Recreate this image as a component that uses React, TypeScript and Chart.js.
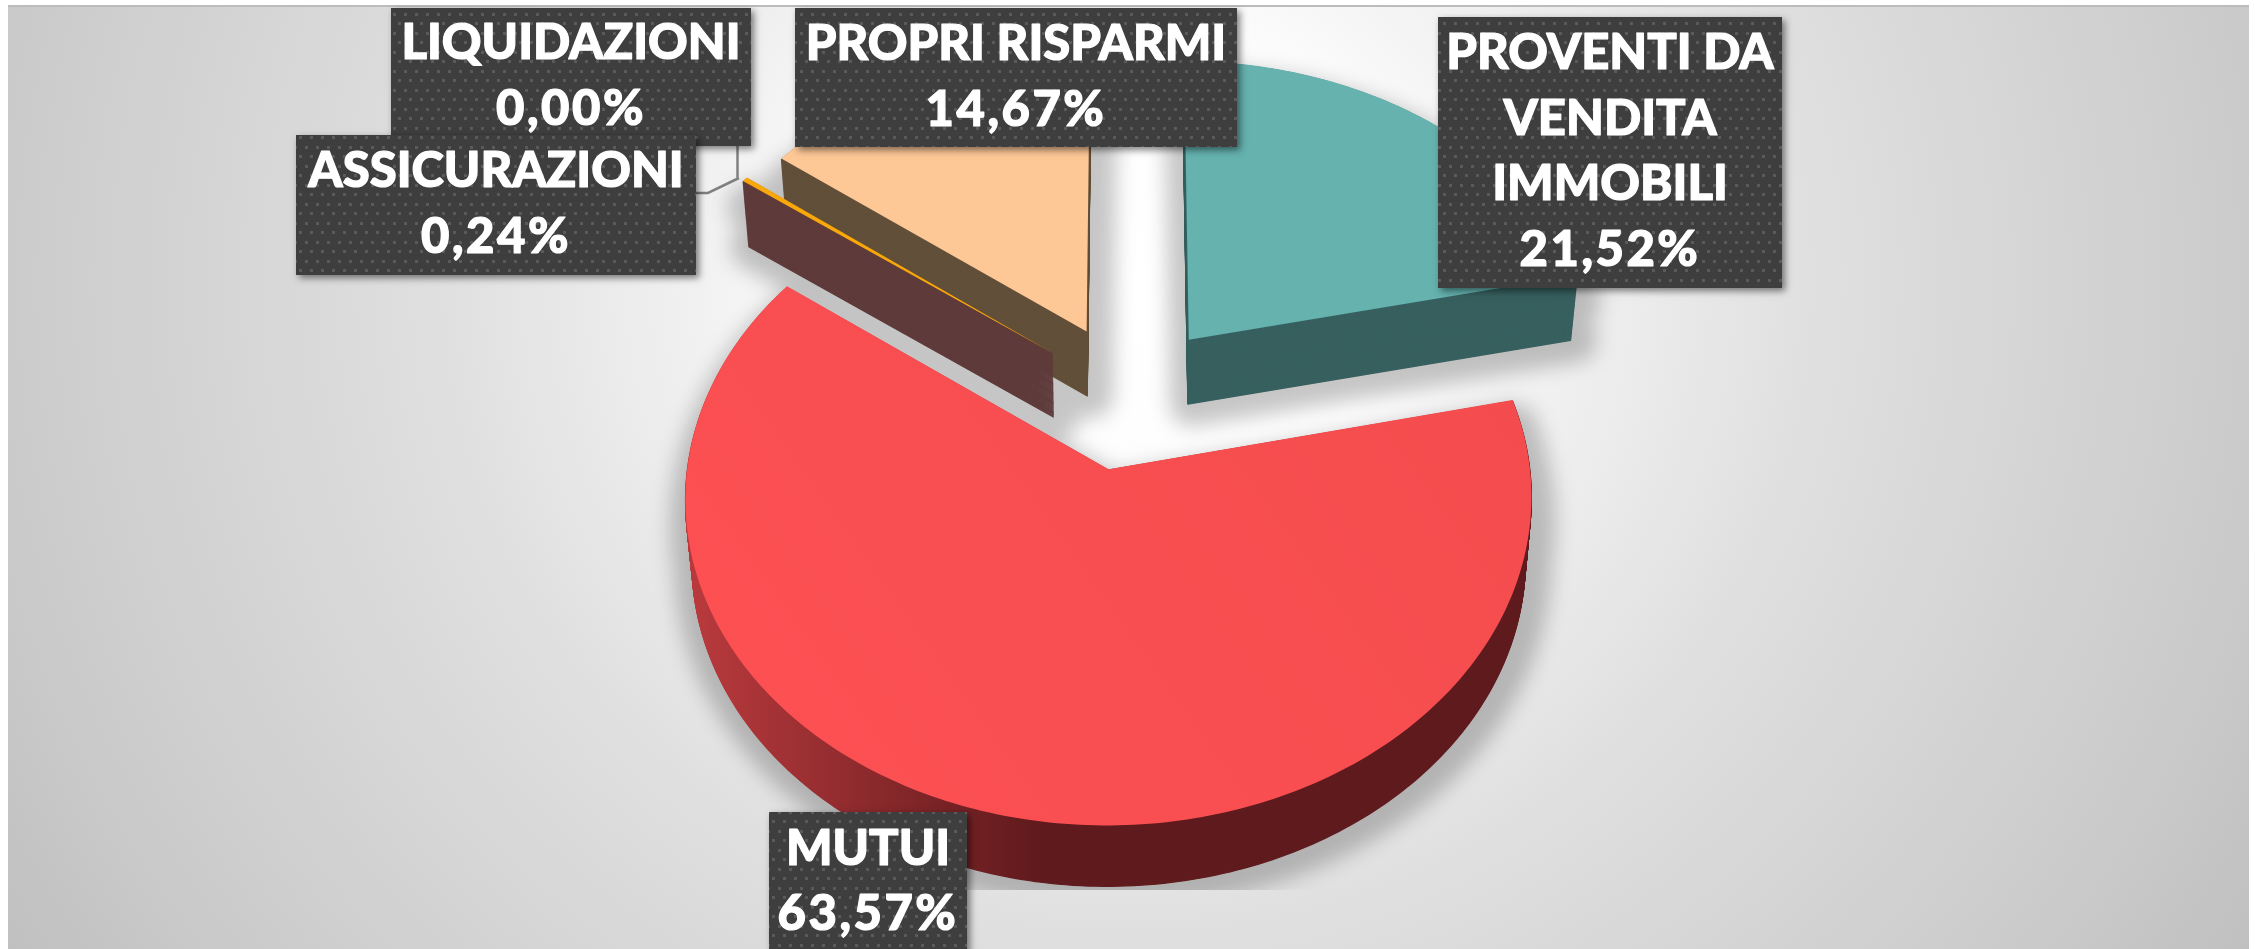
import React, { useEffect, useRef } from "react";
import { Chart, registerables } from "chart.js";

Chart.register(...registerables);

const categories = ["PROVENTI DA VENDITA IMMOBILI", "MUTUI", "ASSICURAZIONI", "LIQUIDAZIONI", "PROPRI RISPARMI"];
const values = [21.52, 63.57, 0.24, 0.0, 14.67];
const topColors = ["#65b2af", "#f64c4e", "#f9a80a", "#a5a5a5", "#fdc796"];
const wallColors = ["#37605f", "#5f1a1d", "#5f3b3b", "#555555", "#62503a"];
const paintOrder = [4, 3, 2, 0, 1];

const valueLabels = ["21,52%", "63,57%", "0,24%", "0,00%", "14,67%"];
const labelLines = [["PROVENTI DA", "VENDITA", "IMMOBILI"], ["MUTUI"], ["ASSICURAZIONI"], ["LIQUIDAZIONI"], ["PROPRI RISPARMI"]];
const labelBoxes = [
  { l: 1438, t: 17, r: 1782, b: 288, base: [69, 135, 200, 266] },
  { l: 769, t: 812, r: 967, b: 960, base: [865, 930] },
  { l: 296, t: 135, r: 696, b: 275, base: [187, 253] },
  { l: 391, t: 8, r: 751, b: 146, base: [59, 125] },
  { l: 795, t: 8, r: 1237, b: 147, base: [60, 126] },
];
const labelPaintOrder = [3, 2, 4, 0, 1];

// Perspective of the pie's plane
const explode = 0.235;
const view = { cx: 1129, cy: 396, fx: 413, fy: 312, persp: 0.0865 };

function project(X: number, Z: number, t: number) {
  const w = 1 - view.persp * Z;
  const x = view.cx + (view.fx * X) / w;
  const y = view.cy + (view.fy * Z) / w;
  const depth = 64 - 2.5 * Z;
  return { x: view.cx + (x - view.cx) * (1 - 0.015 * t), y: y + depth * t };
}

function projectedContext(real: any, arc: any, t: number, fill: any, edge: number) {
  const half = (arc.startAngle + arc.endAngle) / 2;
  const R = arc.outerRadius;
  const map = (px: number, py: number) => {
    const X = (px - arc.x) / R + explode * Math.cos(half);
    const Z = (py - arc.y) / R + explode * Math.sin(half);
    return project(X, Z, t);
  };
  return new Proxy(real, {
    get(target, key) {
      if (key === "arc") {
        return (x: number, y: number, r: number, a: number, b: number) => {
          const n = Math.max(2, Math.ceil(Math.abs(b - a) * 60));
          for (let i = 0; i <= n; i++) {
            const ang = a + ((b - a) * i) / n;
            const p = map(x + r * Math.cos(ang), y + r * Math.sin(ang));
            target.lineTo(p.x, p.y);
          }
        };
      }
      if (key === "lineTo" || key === "moveTo") {
        return (x: number, y: number) => {
          const p = map(x, y);
          target[key](p.x, p.y);
        };
      }
      if (key === "fill" && edge > 0) {
        return () => {
          target.fill();
          target.strokeStyle = target.fillStyle;
          target.lineWidth = edge;
          target.lineJoin = "round";
          target.stroke();
        };
      }
      const v = target[key];
      return typeof v === "function" ? v.bind(target) : v;
    },
    set(target, key, v) {
      target[key] = key === "fillStyle" && fill ? fill : v;
      return true;
    },
  });
}

function dotPattern(ctx: CanvasRenderingContext2D) {
  const c = document.createElement("canvas");
  c.width = 11;
  c.height = 19;
  const g = c.getContext("2d")!;
  g.fillStyle = "#3e3e3e";
  g.fillRect(0, 0, 11, 19);
  g.fillStyle = "#5a5a5a";
  g.fillRect(2, 3, 3, 3);
  g.fillRect(8, 13, 3, 3);
  return ctx.createPattern(c, "repeat")!;
}

const pie3d = {
  id: "pie3d",
  beforeDatasetsDraw(chart: any) {
    const ctx: CanvasRenderingContext2D = chart.ctx;
    const arcs = chart.getDatasetMeta(0).data;
    ctx.save();
    ctx.translate(-8, -5);

    // elliptical backdrop
    ctx.save();
    ctx.translate(1128, 280);
    ctx.scale(1, 1 / 1.05);
    const bg = ctx.createRadialGradient(0, 0, 0, 0, 0, 1340);
    bg.addColorStop(0, "#ffffff");
    bg.addColorStop(0.19, "#fdfdfd");
    bg.addColorStop(0.52, "#dfdfdf");
    bg.addColorStop(0.84, "#cbcbcb");
    bg.addColorStop(1, "#bfbfbf");
    ctx.fillStyle = bg;
    ctx.fillRect(-1128, -400, 2400, 1600);
    ctx.restore();
    ctx.fillStyle = "#bcbcbc";
    ctx.fillRect(8, 5, 2241, 2);

    // soft shadow: the union of the grown lower faces, blurred
    const off = document.createElement("canvas");
    off.width = 2255;
    off.height = 949;
    const offCtx = off.getContext("2d")!;
    for (const i of paintOrder) {
      arcs[i].draw(projectedContext(offCtx, arcs[i], 0.4, "#000000", 44));
      arcs[i].draw(projectedContext(offCtx, arcs[i], 1, "#000000", 44));
    }
    ctx.save();
    ctx.beginPath();
    ctx.rect(8, 7, 2241, 883);
    ctx.clip();
    ctx.globalAlpha = 0.22;
    (ctx as any).filter = "blur(10px)";
    ctx.drawImage(off, 4, 0);
    (ctx as any).filter = "none";
    ctx.restore();

    // side walls, then the top faces
    const redWall = ctx.createLinearGradient(700, 0, 1040, 0);
    redWall.addColorStop(0, "#b7393c");
    redWall.addColorStop(1, "#5f1a1d");
    const redTop = ctx.createLinearGradient(800, 800, 1500, 300);
    redTop.addColorStop(0, "#fc5053");
    redTop.addColorStop(1, "#f44c4e");
    const layers = 66;
    for (const i of paintOrder) {
      const fill = i === 1 ? redWall : wallColors[i];
      for (let k = layers; k >= 1; k--) {
        arcs[i].draw(projectedContext(ctx, arcs[i], k / layers, fill, 1.2));
      }
      arcs[i].draw(projectedContext(ctx, arcs[i], 0, i === 1 ? redTop : null, 0));
    }

    // leader lines
    ctx.strokeStyle = "#808080";
    ctx.lineWidth = 2.5;
    ctx.beginPath();
    ctx.moveTo(696, 193);
    ctx.lineTo(708, 193);
    ctx.lineTo(739, 178);
    ctx.moveTo(737.5, 146);
    ctx.lineTo(737.5, 178);
    ctx.stroke();

    // data labels
    const pattern = dotPattern(ctx);
    for (const i of labelPaintOrder) {
      const b = labelBoxes[i];
      ctx.save();
      ctx.shadowColor = "rgba(0,0,0,0.5)";
      ctx.shadowBlur = 7;
      ctx.shadowOffsetX = 3;
      ctx.shadowOffsetY = 3;
      ctx.fillStyle = "#3e3e3e";
      ctx.fillRect(b.l, b.t, b.r - b.l, b.b - b.t);
      ctx.restore();
      ctx.fillStyle = pattern;
      ctx.fillRect(b.l, b.t, b.r - b.l, b.b - b.t);
      ctx.fillStyle = "#ffffff";
      ctx.strokeStyle = "#ffffff";
      ctx.lineWidth = 1.2;
      ctx.lineJoin = "round";
      ctx.font = "900 49px Lato, 'Noto Sans', sans-serif";
      ctx.textAlign = "center";
      ctx.textBaseline = "alphabetic";
      const lines = [...labelLines[i], valueLabels[i]];
      lines.forEach((s, j) => {
        (ctx as any).letterSpacing = j === lines.length - 1 ? "2.5px" : "0px";
        ctx.fillText(s, (b.l + b.r) / 2, b.base[j]);
        ctx.strokeText(s, (b.l + b.r) / 2, b.base[j]);
      });
      (ctx as any).letterSpacing = "0px";
    }
    ctx.restore();
    return false;
  },
};

export default function App() {
  const ref = useRef<HTMLCanvasElement>(null);
  useEffect(() => {
    const chart = new Chart(ref.current!, {
      type: "pie",
      data: {
        labels: categories,
        datasets: [{ data: values, backgroundColor: topColors, borderWidth: 0 }],
      },
      options: {
        responsive: false,
        animation: false,
        plugins: { legend: { display: false }, tooltip: { enabled: false } },
      },
      plugins: [pie3d],
    } as any);
    return () => chart.destroy();
  }, []);
  return (
    <canvas
      ref={ref}
      width={2241}
      height={944}
      style={{ position: "absolute", left: 8, top: 5, width: 2241, height: 944, display: "block" }}
    />
  );
}
